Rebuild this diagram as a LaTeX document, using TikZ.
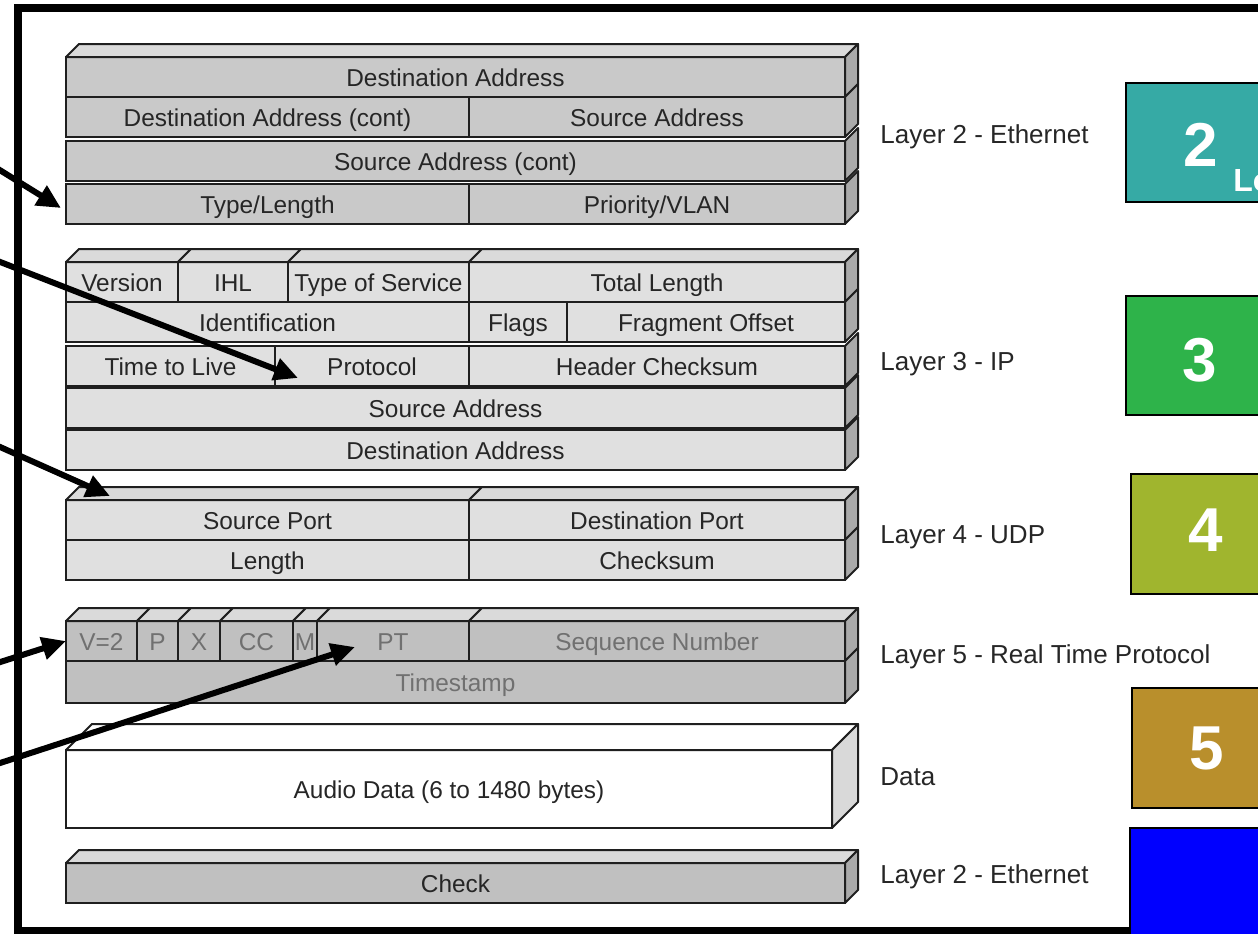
\documentclass[tikz,border=0pt]{standalone}
\usepackage{fontspec}
\setmainfont{Liberation Sans}
\usetikzlibrary{positioning,arrows.meta}
\definecolor{ethgray}{RGB}{201,201,201}
\definecolor{ipgray}{RGB}{224,224,224}
\definecolor{rtpgray}{RGB}{192,192,192}
\definecolor{topgray}{RGB}{218,218,218}
\definecolor{sidegray}{RGB}{170,170,170}
\definecolor{inkgray}{RGB}{112,112,112}
\definecolor{lteal}{RGB}{54,170,165}
\definecolor{lgreen}{RGB}{46,179,74}
\definecolor{lolive}{RGB}{160,181,46}
\definecolor{lgold}{RGB}{185,143,44}
\definecolor{lblue}{RGB}{0,0,255}
\tikzstyle{field} = [rectangle, draw=black!88, line width=1.1pt, inner sep=0pt, outer sep=0pt, minimum height=20pt, text height=12.5pt, text depth=2.6pt, text=black!85, font=\fontsize{12.2}{14}\selectfont]
\tikzstyle{face} = [draw=black!88, line width=1pt, line join=round]
\tikzstyle{layer} = [anchor=west, inner sep=0pt, text height=9.4pt, text depth=2.8pt, text=black!85, font=\fontsize{13}{15}\selectfont]
\tikzstyle{level} = [rectangle, draw=black, line width=0.8pt, anchor=north west, minimum width=90pt, minimum height=60pt]
\tikzstyle{digit} = [text=white, inner sep=0pt, font=\fontsize{31}{31}\selectfont\bfseries]
\tikzstyle{pointer} = [-{Triangle[length=12pt,width=11pt]}, line width=3pt]

\begin{document}
\begin{tikzpicture}[x=0.5pt, y=-0.5pt]
   \useasboundingbox (0,0) rectangle (1258,933);
   % frame
   \draw[line width=4pt] (1300,8) -- (17.5,8) -- (17.5,931) -- (1300,931);

   % Layer 2 - Ethernet header
   \node [field, fill=ethgray, anchor=north west, minimum width=389.5pt] (dst) at (66,57) {Destination Address};
   \node [field, fill=ethgray, anchor=north west, minimum width=201.5pt] (dstc) at (66,97) {Destination Address (cont)};
   \node [field, fill=ethgray, right=0pt of dstc, minimum width=188pt] (src) {Source Address};
   \node [field, fill=ethgray, anchor=north west, minimum width=389.5pt] (srcc) at (66,141) {Source Address (cont)};
   \node [field, fill=ethgray, anchor=north west, minimum width=201.5pt] (tl) at (66,184) {Type/Length};
   \node [field, fill=ethgray, right=0pt of tl, minimum width=188pt] (vlan) {Priority/VLAN};

   % Layer 3 - IP header
   \node [field, fill=ipgray, anchor=north west, minimum width=56pt] (ver) at (66,262) {Version};
   \node [field, fill=ipgray, right=0pt of ver, minimum width=55pt] (ihl) {IHL};
   \node [field, fill=ipgray, right=0pt of ihl, minimum width=90.5pt] (tos) {Type of Service};
   \node [field, fill=ipgray, right=0pt of tos, minimum width=188pt] (tlen) {Total Length};
   \node [field, fill=ipgray, anchor=north west, minimum width=201.5pt] (ident) at (66,302) {Identification};
   \node [field, fill=ipgray, right=0pt of ident, minimum width=49pt] (flags) {Flags};
   \node [field, fill=ipgray, right=0pt of flags, minimum width=139pt] (frag) {Fragment Offset};
   \node [field, fill=ipgray, anchor=north west, minimum width=104.5pt] (ttl) at (66,346) {Time to Live};
   \node [field, fill=ipgray, right=0pt of ttl, minimum width=97pt] (proto) {Protocol};
   \node [field, fill=ipgray, right=0pt of proto, minimum width=188pt] (hcs) {Header Checksum};
   \node [field, fill=ipgray, anchor=north west, minimum width=389.5pt] (ipsrc) at (66,388) {Source Address};
   \node [field, fill=ipgray, anchor=north west, minimum width=389.5pt] (ipdst) at (66,430) {Destination Address};

   % Layer 4 - UDP header
   \node [field, fill=ipgray, anchor=north west, minimum width=201.5pt] (sport) at (66,500) {Source Port};
   \node [field, fill=ipgray, right=0pt of sport, minimum width=188pt] (dport) {Destination Port};
   \node [field, fill=ipgray, anchor=north west, minimum width=201.5pt] (ulen) at (66,540) {Length};
   \node [field, fill=ipgray, right=0pt of ulen, minimum width=188pt] (ucs) {Checksum};

   % Layer 5 - RTP header
   \node [field, fill=rtpgray, text=inkgray, anchor=north west, minimum width=35.5pt] (ver2) at (66,621) {V=2};
   \node [field, fill=rtpgray, text=inkgray, right=0pt of ver2, minimum width=20.5pt] (pad) {P};
   \node [field, fill=rtpgray, text=inkgray, right=0pt of pad, minimum width=21pt] (ext) {X};
   \node [field, fill=rtpgray, text=inkgray, right=0pt of ext, minimum width=36.5pt] (cc) {CC};
   \node [field, fill=rtpgray, text=inkgray, right=0pt of cc, minimum width=12pt] (mark) {M};
   \node [field, fill=rtpgray, text=inkgray, right=0pt of mark, minimum width=76pt] (pt) {PT};
   \node [field, fill=rtpgray, text=inkgray, right=0pt of pt, minimum width=188pt] (seq) {Sequence Number};
   \node [field, fill=rtpgray, text=inkgray, anchor=north west, minimum width=389.5pt, minimum height=21pt] (ts) at (66,661) {Timestamp};

   % Data and trailer
   \node [field, fill=white, anchor=north west, minimum width=383pt, minimum height=39pt] (audio) at (66,750) {Audio Data (6 to 1480 bytes)};
   \node [field, fill=rtpgray, anchor=north west, minimum width=389.5pt] (chk) at (66,863) {Check};

   % top and side faces
   \foreach \n in {dst,ver,ihl,tos,tlen,sport,dport,ver2,pad,ext,cc,mark,pt,seq,chk}
      \draw[face, fill=topgray] (\n.north west) -- ++(6.5pt,6.5pt) -- ([shift={(6.5pt,6.5pt)}]\n.north east) -- (\n.north east) -- cycle;
   \foreach \n in {dst,src,srcc,vlan,tlen,frag,hcs,ipsrc,ipdst,dport,ucs,seq,ts,chk}
      \draw[face, fill=sidegray] (\n.north east) -- ++(6.5pt,6.5pt) -- ([shift={(6.5pt,6.5pt)}]\n.south east) -- (\n.south east) -- cycle;
   \draw[face, fill=white] (audio.north west) -- ++(13pt,13pt) -- ([shift={(13pt,13pt)}]audio.north east) -- (audio.north east) -- cycle;
   \draw[face, fill=black!15] (audio.north east) -- ++(13pt,13pt) -- ([shift={(13pt,13pt)}]audio.south east) -- (audio.south east) -- cycle;

   % layer names
   \node [layer] (l2) at (880,137) {Layer 2 - Ethernet};
   \node [layer] (l3) at (880,364) {Layer 3 - IP};
   \node [layer] (l4) at (880,537) {Layer 4 - UDP};
   \node [layer] (l5) at (880,657) {Layer 5 - Real Time Protocol};
   \node [layer] (ld) at (880,779) {Data};
   \node [layer] (l2b) at (880,877) {Layer 2 - Ethernet};

   % OSI level boxes
   \node [level, fill=lteal, minimum height=59.5pt] (b2) at (1125,82) {};
   \node [level, fill=lgreen, minimum height=59.5pt] (b3) at (1125,295) {};
   \node [level, fill=lolive] (b4) at (1130,473) {};
   \node [level, fill=lgold] (b5) at (1131,687) {};
   \node [level, fill=lblue] (bl) at (1129,827) {};
   \node [digit] (n2) at (1201,145) {2};
   \node [anchor=west, inner sep=0pt, text=white, font=\fontsize{16}{18}\selectfont\bfseries] (lo) at (1233,181) {Lo};
   \node [digit] (n3) at (1200,360) {3};
   \node [digit] (n4) at (1206,530) {4};
   \node [digit] (n5) at (1207,748) {5};

   % pointers from the left
   \coordinate (from1) at (-10,164);
   \coordinate (from2) at (-10,258);
   \coordinate (from3) at (-10,442.5);
   \coordinate (from4) at (-10,665.3);
   \coordinate (from5) at (-10,766.3);
   \draw[pointer] (from1) -- ([shift={(-5,4)}]tl.west);
   \draw[pointer] (from2) -- ([shift={(23,12)}]proto.west);
   \draw[pointer] (from3) -- ([shift={(44,-4)}]sport.north west);
   \draw[pointer] (from4) -- (ver2.west);
   \draw[pointer] (from5) -- ([shift={(38,6)}]pt.west);
\end{tikzpicture}
\end{document}
